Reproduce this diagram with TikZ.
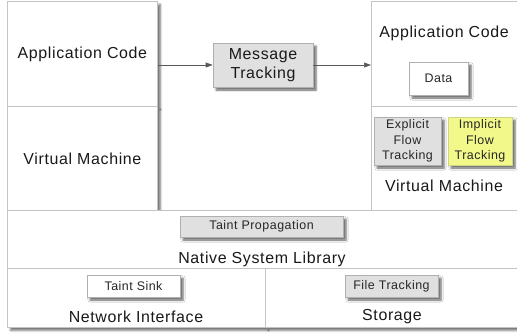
\documentclass[tikz,border=0pt]{standalone}
\usepackage{fontspec}
\setmainfont[LetterSpace=4]{Liberation Sans}
\usetikzlibrary{arrows.meta,shadows.blur}
\definecolor{boxline}{HTML}{C4C4C4}
\definecolor{tagfill}{HTML}{E0E0E0}
\definecolor{tagline}{HTML}{B0B0B0}
\definecolor{hilite}{HTML}{F2F98A}
\definecolor{hiliteline}{HTML}{D0D484}
\tikzset{
  layer/.style={draw=boxline, fill=white, line width=0.8bp, inner sep=0pt, anchor=north west,
    blur shadow={shadow xshift=3bp, shadow yshift=-3bp, shadow blur steps=6, shadow opacity=55},
    font=\fontsize{16}{19}\selectfont, text=black!90},
  tag/.style={draw=tagline, fill=tagfill, line width=0.6bp, inner sep=0pt, align=center,
    blur shadow={shadow xshift=3bp, shadow yshift=-3bp, shadow blur steps=5, shadow opacity=60},
    font=\fontsize{12.5}{15.5}\selectfont, text=black!85},
  title/.style={font=\fontsize{16}{19}\selectfont, text=black!90},
  link/.style={draw=black!65, line width=0.6bp, -{Triangle[length=7bp,width=5bp]}}
}
\begin{document}
\begin{tikzpicture}[x=1bp, y=-1bp]
  \useasboundingbox (0,0) rectangle (517,333);
  % device side
  \node[layer, minimum width=150bp, minimum height=105bp] (leftapp) at (7,1) {Application Code};
  \node[layer, minimum width=150bp, minimum height=104bp] (leftvm) at (7,106) {Virtual Machine};
  % remote side
  \node[layer, minimum width=150bp, minimum height=105bp] (rightapp) at (371,1) {};
  \node[layer, minimum width=150bp, minimum height=104bp] (rightvm) at (371,106) {};
  % shared layers
  \node[layer, minimum width=514bp, minimum height=58bp] (nsl) at (7,210) {};
  \node[layer, minimum width=258bp, minimum height=59bp] (net) at (7,268) {};
  \node[layer, minimum width=256bp, minimum height=59bp] (stor) at (265,268) {};
  % labels
  \node[title] (rightapptxt) at (444,33) {Application Code};
  \node[title] (rightvmtxt) at (444,186) {Virtual Machine};
  \node[title] (nsltxt) at (262,259) {Native System Library};
  \node[title] (nettxt) at (136,317) {Network Interface};
  \node[title] (stortxt) at (392,317) {Storage};
  % tracking boxes
  \node[tag, minimum width=100bp, minimum height=44bp, font=\fontsize{16}{19}\selectfont, text=black!90] (msg) at (263,65) {Message\\Tracking};
  \node[tag, fill=white, minimum width=59bp, minimum height=33bp] (data) at (438.5,78.5) {Data};
  \node[tag, minimum width=67bp, minimum height=48bp] (explicit) at (407.5,141) {Explicit\\Flow\\Tracking};
  \node[tag, fill=hilite, draw=hiliteline, minimum width=64bp, minimum height=48bp] (implicit) at (480,141) {Implicit\\Flow\\Tracking};
  \node[tag, minimum width=163bp, minimum height=21bp] (taintprop) at (261.5,226.5) {Taint Propagation};
  \node[tag, fill=white, minimum width=93bp, minimum height=22bp] (taintsink) at (133.5,286) {Taint Sink};
  \node[tag, minimum width=93bp, minimum height=22bp] (filetrack) at (391.5,286) {File Tracking};
  % message path
  \draw[link] (leftapp.east |- msg.west) -- (msg.west); % app -- msg
  \draw[link] (msg.east) -- (rightapp.west |- msg.east); % msg -- app
\end{tikzpicture}
\end{document}
